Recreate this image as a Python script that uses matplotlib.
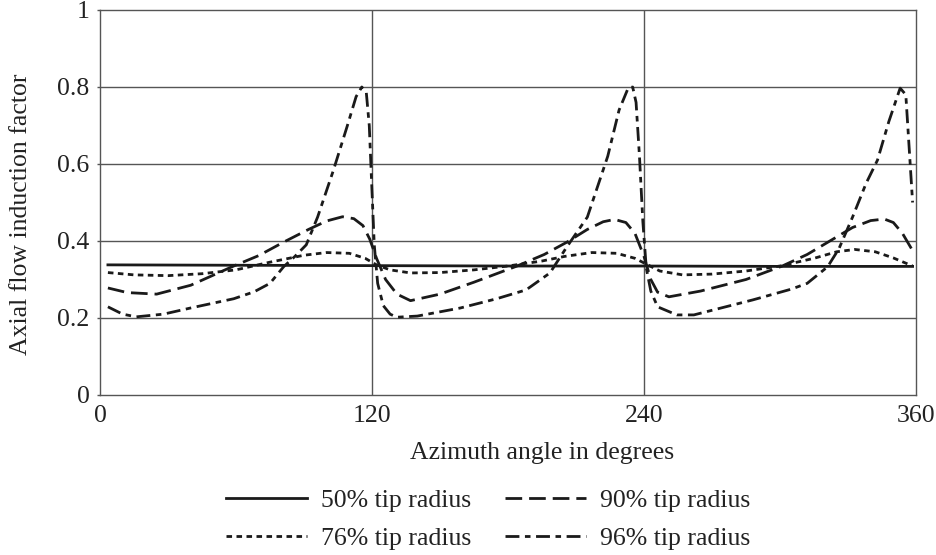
import matplotlib
matplotlib.use("Agg")
import matplotlib.pyplot as plt

# Axial flow induction factor around one rotor revolution, four radial stations
ang_50 = [3.5, 60, 120, 180, 240, 300, 358.5]
val_50 = [0.338, 0.337, 0.336, 0.335, 0.335, 0.334, 0.334]

ang_76 = [3.5, 15, 30, 45, 60, 75, 90, 100, 110, 117, 122, 128, 137, 150, 165, 180, 195,
          205, 217, 228, 236, 241, 247, 257, 270, 285, 300, 315, 325, 333, 342, 350, 358.5]
val_76 = [0.318, 0.312, 0.31, 0.315, 0.325, 0.345, 0.363, 0.37, 0.368, 0.355, 0.338, 0.325,
          0.317, 0.318, 0.325, 0.335, 0.348, 0.36, 0.37, 0.368, 0.355, 0.34, 0.322, 0.312,
          0.314, 0.322, 0.335, 0.355, 0.372, 0.378, 0.372, 0.356, 0.335]

ang_90 = [3.5, 12, 25, 40, 59, 70, 81, 92, 100, 107, 112, 116, 119, 122, 126, 131, 137,
          150, 165, 184, 196, 206, 215, 222, 227, 232, 236, 240, 243, 246, 251,
          265, 285, 301, 312, 322, 332, 340, 346, 350, 354, 358.5]
val_90 = [0.278, 0.266, 0.262, 0.285, 0.335, 0.362, 0.397, 0.43, 0.452, 0.463, 0.458, 0.44,
          0.405, 0.355, 0.3, 0.262, 0.245, 0.262, 0.293, 0.335, 0.365, 0.397, 0.43, 0.45,
          0.456, 0.448, 0.42, 0.36, 0.3, 0.267, 0.255, 0.27, 0.3, 0.335, 0.365, 0.4, 0.435,
          0.453, 0.457, 0.448, 0.42, 0.375]

ang_96 = [3.5, 10, 16, 28, 40, 59, 68, 75, 81, 86, 91, 96, 103, 109, 113, 115.5, 117.5,
          118.8, 120, 121, 122.5, 125, 128, 131, 140, 159, 175, 188, 198.5, 206, 215, 224,
          229, 233, 235, 236.5, 238, 239.5, 241, 243, 246, 254.5, 262, 288, 305, 312, 321,
          326, 332, 338, 343, 348, 353, 355.5, 357, 358.5]
val_96 = [0.229, 0.21, 0.203, 0.21, 0.226, 0.25, 0.268, 0.29, 0.333, 0.36, 0.39, 0.462,
          0.584, 0.697, 0.775, 0.8, 0.785, 0.7, 0.53, 0.39, 0.29, 0.232, 0.21, 0.202, 0.205,
          0.226, 0.25, 0.273, 0.317, 0.385, 0.462, 0.62, 0.74, 0.797, 0.8, 0.76, 0.62, 0.45,
          0.33, 0.27, 0.229, 0.208, 0.208, 0.247, 0.275, 0.29, 0.333, 0.38, 0.462, 0.55,
          0.61, 0.71, 0.797, 0.78, 0.64, 0.5]

x_ticks = [0, 120, 240, 360]
y_ticks = [0, 0.2, 0.4, 0.6, 0.8, 1]
y_tick_labels = ["0", "0.2", "0.4", "0.6", "0.8", "1"]

plt.rcParams["font.family"] = ["Liberation Serif", "DejaVu Serif"]
plt.rcParams["font.size"] = 18.5

fig = plt.figure(figsize=(9.37, 5.55), dpi=100)
ax = fig.add_axes([0.1067, 0.2883, 0.8709, 0.6937])

grid_c = "#555555"
text_c = "#222222"
for gx in x_ticks[1:-1]:
    ax.axvline(gx, color=grid_c, lw=1.0, zorder=1)
for gy in y_ticks[1:-1]:
    ax.axhline(gy, color=grid_c, lw=1.0, zorder=1)

ink = "#1a1a1a"
ax.plot(ang_50, val_50, color=ink, lw=2.0, ls="-", label="50% tip radius", zorder=3)
ax.plot(ang_76, val_76, color=ink, lw=2.0, ls=(0, (2.0, 1.6)), label="76% tip radius", zorder=3)
ax.plot(ang_90, val_90, color=ink, lw=2.0, ls=(0, (6.0, 2.5)), label="90% tip radius", zorder=3)
ax.plot(ang_96, val_96, color=ink, lw=2.0, ls=(0, (5.0, 2.0, 2.0, 2.0)), label="96% tip radius", zorder=3)

ax.set_xlim(0, 360)
ax.set_ylim(0, 1)
ax.set_xticks(x_ticks)
ax.set_yticks(y_ticks)
ax.set_yticklabels(y_tick_labels)
ax.tick_params(axis="x", length=0, pad=7, colors=text_c)
ax.tick_params(axis="y", length=2.5, width=1.0, color=grid_c, pad=5, colors=text_c)
for s in ax.spines.values():
    s.set_color(grid_c)
    s.set_linewidth(1.0)

ax.set_xlabel("Azimuth angle in degrees", color=text_c)
ax.xaxis.set_label_coords(0.5417, -0.121)
ax.set_ylabel("Axial flow induction factor", color=text_c)
ax.yaxis.set_label_coords(-0.083, 0.469)

leg = fig.legend(loc="center", bbox_to_anchor=(0.521, 0.064), ncol=2, frameon=False,
                 handlelength=3.15, columnspacing=1.3, handletextpad=0.55, labelspacing=0.6)
for t in leg.get_texts():
    t.set_color(text_c)

fig.savefig("out.png", dpi=100)
